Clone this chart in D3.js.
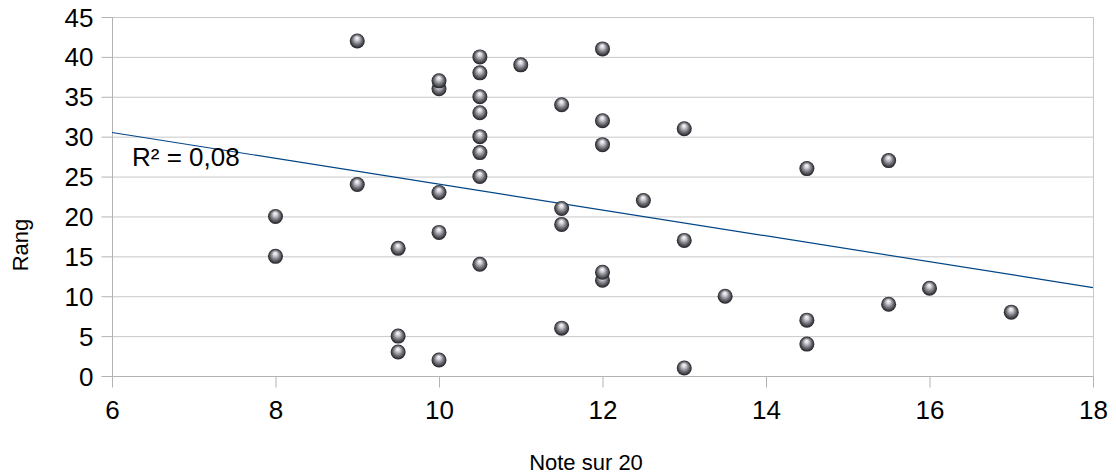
<!DOCTYPE html>
<html><head><meta charset="utf-8">
<script src="https://cdn.jsdelivr.net/npm/d3@7"></script>
<style>body{margin:0;background:#fff;} svg{display:block;font-family:"Liberation Sans",Arial,sans-serif;}</style>
</head><body>
<svg id="c" width="1116" height="475"></svg>
<script>
const notes = [13,10,9.5,14.5,9.5,11.5,14.5,17,15.5,13.5,16,12,12,10.5,8,9.5,13,10,11.5,8,11.5,12.5,10,9,10.5,14.5,15.5,10.5,12,10.5,13,12,10.5,11.5,10.5,10,10,10.5,11,10.5,12,9];
const rangs = [1,2,3,4,5,6,7,8,9,10,11,12,13,14,15,16,17,18,19,20,21,22,23,24,25,26,27,28,29,30,31,32,33,34,35,36,37,38,39,40,41,42];
const xTicks = [6,8,10,12,14,16,18];
const yTicks = [0,5,10,15,20,25,30,35,40,45];
const xTitle = "Note sur 20";
const yTitle = "Rang";

const svg = d3.select("#c");
const x = d3.scaleLinear().domain([6,18]).range([112,1093]);
const y = d3.scaleLinear().domain([0,45]).range([376,17]);

const defs = svg.append("defs");
const g = defs.append("radialGradient").attr("id","sph").attr("cx","50%").attr("cy","50%").attr("r","50%").attr("fx","48%").attr("fy","28%");
[["0%","#ffffff"],["25%","#d4d4da"],["60%","#7a7a82"],["90%","#34343a"],["100%","#222226"]].forEach(s=>g.append("stop").attr("offset",s[0]).attr("stop-color",s[1]));

// gridlines
svg.append("g").selectAll("line").data(yTicks.filter(t=>t>0)).join("line")
  .attr("x1",x(6)).attr("x2",x(18)).attr("y1",d=>y(d)+0.5).attr("y2",d=>y(d)+0.5)
  .attr("stroke","#c8c8c8").attr("stroke-width",1);
// right border
svg.append("line").attr("x1",x(18)+0.5).attr("x2",x(18)+0.5).attr("y1",y(45)).attr("y2",y(0)+11).attr("stroke","#c8c8c8");

// axes
const xAxis = svg.append("g").attr("transform",`translate(0,${y(0)+0.5})`)
  .call(d3.axisBottom(x).tickValues(xTicks).tickSize(11).tickPadding(13).tickFormat(d3.format("d")));
const yAxis = svg.append("g").attr("transform",`translate(${x(6)+0.5},0)`)
  .call(d3.axisLeft(y).tickValues(yTicks).tickSize(11).tickPadding(8).tickFormat(d3.format("d")));
[xAxis,yAxis].forEach(a=>{
  a.select(".domain").attr("stroke","#b3b3b3").attr("d", a===xAxis ? `M${x(6)},0H${x(18)}` : `M0,${y(45)}V${y(0)+11}`);
  a.selectAll(".tick line").attr("stroke","#b3b3b3");
  a.selectAll("text").attr("fill","#000").style("font-size","26px");
});
xAxis.selectAll("text").attr("dy","0.71em");
yAxis.selectAll("text").attr("dy","0.35em");

// regression
const n = notes.length;
const mx = d3.mean(notes), my = d3.mean(rangs);
let sxy=0,sxx=0,syy=0;
for(let i=0;i<n;i++){sxy+=(notes[i]-mx)*(rangs[i]-my);sxx+=(notes[i]-mx)**2;syy+=(rangs[i]-my)**2;}
const b = sxy/sxx, a0 = my - b*mx;
const r2 = (sxy*sxy)/(sxx*syy);
svg.append("line").attr("x1",x(6)).attr("x2",x(18)).attr("y1",y(a0+b*6)).attr("y2",y(a0+b*18))
  .attr("stroke","#004586").attr("stroke-width",1.2);
svg.append("text").attr("x",132).attr("y",166).style("font-size","26px").attr("fill","#000")
  .text("R² = " + r2.toFixed(2).replace(".",","));

// points
svg.append("g").selectAll("circle").data(notes.map((d,i)=>[d,rangs[i]])).join("circle")
  .attr("cx",d=>x(d[0])).attr("cy",d=>y(d[1])).attr("r",7.5).attr("fill","url(#sph)");

// titles
svg.append("text").attr("x",586).attr("y",470).attr("text-anchor","middle").style("font-size","22px").text(xTitle);
svg.append("text").attr("transform","translate(28,245) rotate(-90)").attr("text-anchor","middle").style("font-size","22px").text(yTitle);
</script>
</body></html>
